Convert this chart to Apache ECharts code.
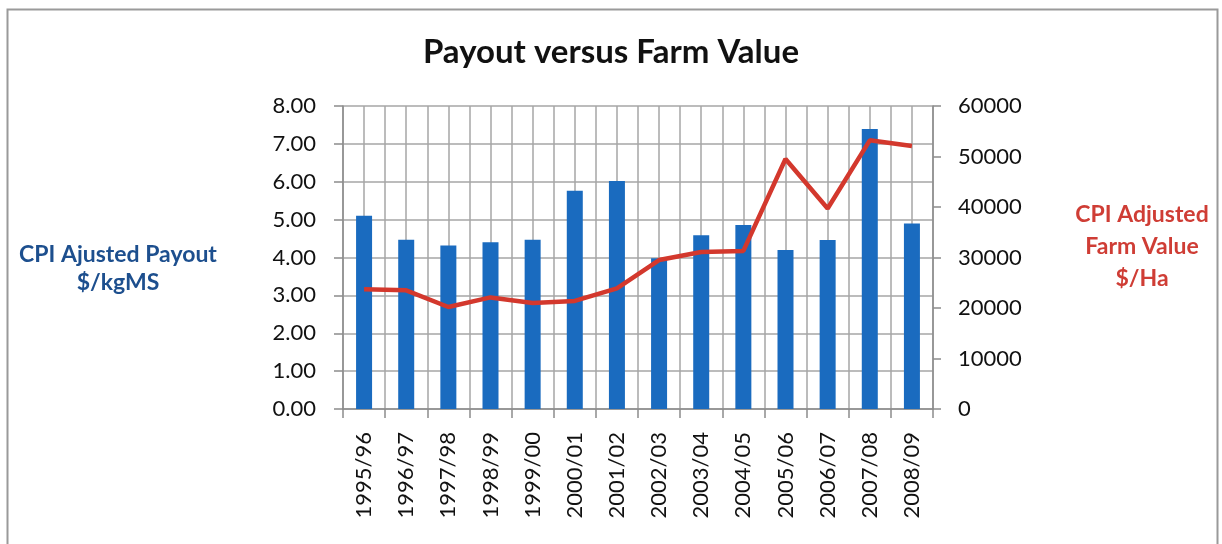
<!DOCTYPE html>
<html>
<head>
<meta charset="utf-8">
<script src="https://cdn.jsdelivr.net/npm/echarts@6/dist/echarts.min.js"></script>
<style>
  html, body { margin: 0; padding: 0; background: #ffffff; }
  #chart { width: 1222px; height: 544px; }
</style>
</head>
<body>
<div id="chart"></div>
<script>
// Seasons on the category axis
const seasons = ['1995/96', '1996/97', '1997/98', '1998/99', '1999/00', '2000/01', '2001/02',
  '2002/03', '2003/04', '2004/05', '2005/06', '2006/07', '2007/08', '2008/09'];
// CPI adjusted payout, $/kgMS (left axis, bars)
const payout = [5.10, 4.47, 4.32, 4.40, 4.47, 5.76, 6.02, 3.98, 4.59, 4.86, 4.20, 4.46, 7.39, 4.90];
// CPI adjusted farm value, $/Ha (right axis, line)
const farmValue = [23700, 23500, 20200, 22100, 21000, 21400, 23900, 29500, 31100, 31300, 49500, 39700, 53200, 52100];
// Axis tick settings
const payoutTicks = { min: 0, max: 8, interval: 1 };
const farmTicks = { min: 0, max: 60000, interval: 10000 };

const FONT = 'Lato';
const gridColor = '#a6a6a6';
const axisColor = '#8c8c8c';
const chart = echarts.init(document.getElementById('chart'), null, { renderer: 'canvas' });

chart.setOption({
  animation: false,
  backgroundColor: '#ffffff',
  textStyle: { fontFamily: FONT },
  title: {
    text: 'Payout versus Farm Value',
    left: 'center',
    top: 31,
    textStyle: { fontFamily: FONT, fontWeight: 'bold', fontSize: 33, color: '#111111' }
  },
  grid: { left: 343, right: 289, top: 106, bottom: 135, containLabel: false },
  xAxis: [
    {
      type: 'category',
      data: seasons,
      axisLine: { lineStyle: { color: axisColor, width: 1.5 } },
      axisTick: { show: true, length: 9, lineStyle: { color: axisColor, width: 1.5 } },
      axisLabel: {
        rotate: 90, fontSize: 22, color: '#111111', margin: 23, fontFamily: FONT
      },
      splitLine: { show: false }
    },
    {
      // half-category grid lines behind the bars
      type: 'value',
      position: 'top',
      min: 0, max: seasons.length * 2, interval: 1,
      axisLine: { show: false }, axisTick: { show: false }, axisLabel: { show: false },
      splitLine: { show: true, lineStyle: { color: gridColor, width: 1.5 } }
    }
  ],
  yAxis: [
    {
      type: 'value',
      min: payoutTicks.min, max: payoutTicks.max, interval: payoutTicks.interval,
      axisLine: { show: true, lineStyle: { color: axisColor, width: 1.5 } },
      axisTick: { show: true, length: 9, lineStyle: { color: axisColor, width: 1.5 } },
      axisLabel: {
        formatter: v => v.toFixed(2), fontSize: 22, color: '#111111', margin: 27, fontFamily: FONT
      },
      splitLine: { show: true, lineStyle: { color: gridColor, width: 1.5 } }
    },
    {
      type: 'value',
      min: farmTicks.min, max: farmTicks.max, interval: farmTicks.interval,
      axisLine: { show: true, lineStyle: { color: axisColor, width: 1.5 } },
      axisTick: { show: true, length: 8, lineStyle: { color: axisColor, width: 1.5 } },
      axisLabel: { formatter: v => String(v), fontSize: 22, color: '#111111', margin: 25, fontFamily: FONT },
      splitLine: { show: false }
    }
  ],
  series: [
    {
      name: 'CPI Ajusted Payout $/kgMS',
      type: 'bar',
      xAxisIndex: 0,
      yAxisIndex: 0,
      data: payout,
      barWidth: 16,
      itemStyle: { color: '#1a6bbf' },
      z: 2
    },
    {
      name: 'CPI Adjusted Farm Value $/Ha',
      type: 'line',
      xAxisIndex: 0,
      yAxisIndex: 1,
      data: farmValue,
      symbol: 'none',
      lineStyle: { color: '#d3382d', width: 4.5 },
      z: 3
    }
  ],
  graphic: [
    {
      type: 'rect',
      shape: { x: 7.5, y: 9.5, width: 1210, height: 540 },
      style: { fill: 'none', stroke: '#9a9a9a', lineWidth: 2 },
      silent: true
    },
    {
      type: 'text',
      x: 118, y: 241,
      style: {
        text: 'CPI Ajusted Payout\n$/kgMS',
        align: 'center', verticalAlign: 'top',
        fontFamily: FONT, fontWeight: 'bold', fontSize: 23, lineHeight: 28,
        fill: '#1d4f8e'
      }
    },
    {
      type: 'text',
      x: 1142, y: 199,
      style: {
        text: 'CPI Adjusted\nFarm Value\n$/Ha',
        align: 'center', verticalAlign: 'top',
        fontFamily: FONT, fontWeight: 'bold', fontSize: 23, lineHeight: 32,
        fill: '#cf3d35'
      }
    }
  ]
});
</script>
</body>
</html>
